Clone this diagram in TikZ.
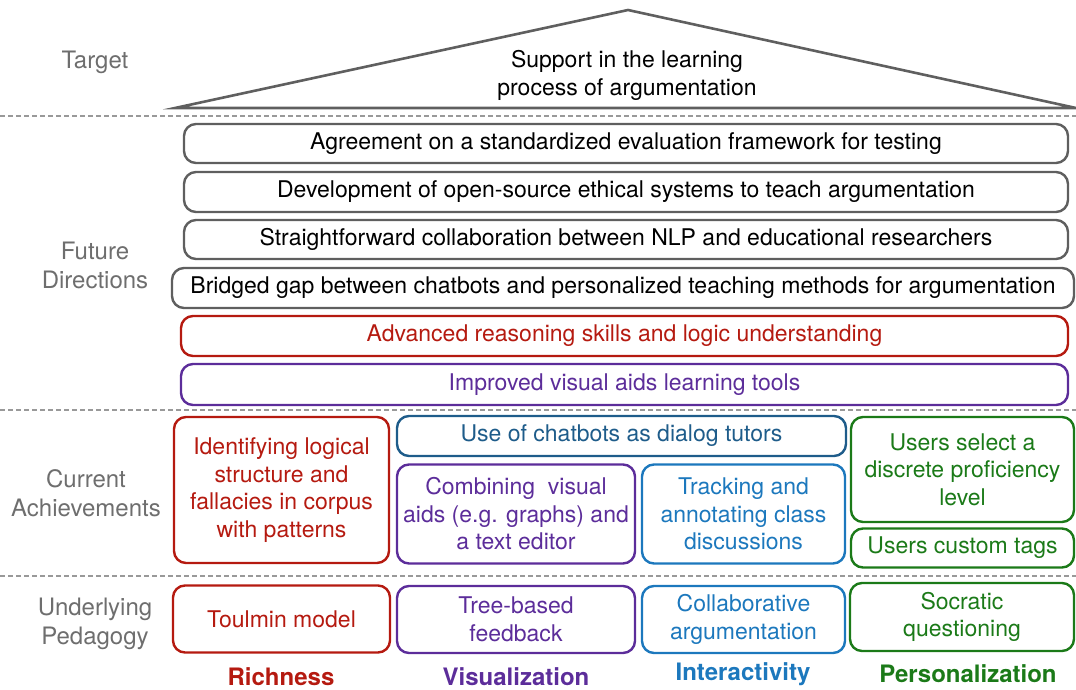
\documentclass[tikz,border=0pt]{standalone}
\usepackage{fontspec}
\setmainfont{TeX Gyre Heros}
\usetikzlibrary{calc}
\definecolor{richred}{HTML}{B51A10}
\definecolor{vispurple}{HTML}{5C2D9A}
\definecolor{chatblue}{HTML}{1E5C8A}
\definecolor{interblue}{HTML}{1C78BD}
\definecolor{persgreen}{HTML}{1B7A18}
\definecolor{boxgrey}{HTML}{5F5F5F}
\definecolor{labelgrey}{HTML}{6E6E6E}
\tikzset{
	box/.style={rounded corners=12pt,line width=2.4pt,align=center,inner sep=0pt,
		font=\fontsize{23}{27.5}\selectfont},
	gbox/.style={box,draw=boxgrey,text=black},
	rbox/.style={box,draw=richred,text=richred},
	pbox/.style={box,draw=vispurple,text=vispurple},
	cbox/.style={box,draw=chatblue,text=chatblue},
	ibox/.style={box,draw=interblue,text=interblue},
	ebox/.style={box,draw=persgreen,text=persgreen},
	level/.style={text=labelgrey,align=center,font=\fontsize{24}{29}\selectfont},
	pillar/.style={font=\fontsize{24}{25}\selectfont\bfseries},
	sep/.style={dashed,dash pattern=on 5pt off 3pt,line width=1.3pt,draw=labelgrey!70}
}

\begin{document}
\begin{tikzpicture}[x=1pt,y=-1pt]
		\useasboundingbox (0,0) rectangle (1076,689);
		
		% roof
		\coordinate (apex) at (628,10);
		\coordinate (eaveL) at (175,108);
		\coordinate (eaveR) at (1076,108);
		\draw[boxgrey,line width=2.6pt,line join=miter] (eaveL) -- (apex) -- (eaveR) -- cycle;
		\node[align=center,font=\fontsize{23}{27.5}\selectfont] (target) at (627,75.5) {Support in the learning\\process of argumentation};
		
		% separators
		\draw[sep] (0,116) -- (1076,116);
		\draw[sep] (0,410) -- (1076,410);
		\draw[sep] (0,576) -- (1076,576);
		
		% levels
		\node[level] (lTarget) at (95,62) {Target};
		\node[level] (lFuture) at (95,265) {Future\\Directions};
		\node[level] (lCurrent) at (86,493) {Current\\Achievements};
		\node[level] (lUnder) at (95,624) {Underlying\\Pedagogy};
		
		% future directions
		\node[gbox,minimum width=884pt,minimum height=39pt] (f1) at (626,143.5) {Agreement on a standardized evaluation framework for testing};
		\node[gbox,minimum width=884pt,minimum height=40pt] (f2) at (626,192) {Development of open-source ethical systems to teach argumentation};
		\node[gbox,minimum width=884pt,minimum height=39pt] (f3) at (626,239.5) {Straightforward collaboration between NLP and educational researchers};
		\node[gbox,minimum width=902pt,minimum height=40pt] (f4) at (623,288) {Bridged gap between chatbots and personalized teaching methods for argumentation};
		\node[rbox,minimum width=887pt,minimum height=40pt] (f5) at (624.5,336) {Advanced reasoning skills and logic understanding};
		\node[pbox,minimum width=887pt,minimum height=41pt] (f6) at (624.5,384.5) {Improved visual aids learning tools};
		
		% current achievements
		\node[rbox,minimum width=215pt,minimum height=146pt] (cRich) at (281.5,490) {Identifying logical\\structure and\\fallacies in corpus\\with patterns};
		\node[cbox,minimum width=449pt,minimum height=40pt] (cChat) at (621.5,436) {Use of chatbots as dialog tutors};
		\node[pbox,minimum width=238pt,minimum height=99pt] (cVis) at (516,514) {Combining\ \ visual\\aids (e.g. graphs) and\\a text editor};
		\node[ibox,minimum width=203pt,minimum height=99pt] (cInter) at (743.5,514) {Tracking and\\annotating class\\discussions};
		\node[ebox,minimum width=223pt,minimum height=105pt] (cLevel) at (962.5,469.5) {Users select a\\discrete proficiency\\level};
		\node[ebox,minimum width=223pt,minimum height=39pt] (cTags) at (962.5,548) {Users custom tags};
		
		% underlying pedagogy
		\node[rbox,minimum width=217pt,minimum height=67pt] (uRich) at (281.5,619) {Toulmin model};
		\node[pbox,minimum width=238pt,minimum height=67pt] (uVis) at (516,619.5) {Tree-based\\feedback};
		\node[ibox,minimum width=203pt,minimum height=67pt] (uInter) at (743.5,619.5) {Collaborative\\argumentation};
		\node[ebox,minimum width=224pt,minimum height=68pt] (uPers) at (962,617) {Socratic\\questioning};
		
		% pillars
		\node[pillar,text=richred] (pRich) at (281,677) {Richness};
		\node[pillar,text=vispurple] (pVis) at (516,677) {Visualization};
		\node[pillar,text=interblue] (pInter) at (743,674) {Interactivity};
		\node[pillar,text=persgreen] (pPers) at (968,674) {Personalization};
		\end{tikzpicture}
\end{document}
